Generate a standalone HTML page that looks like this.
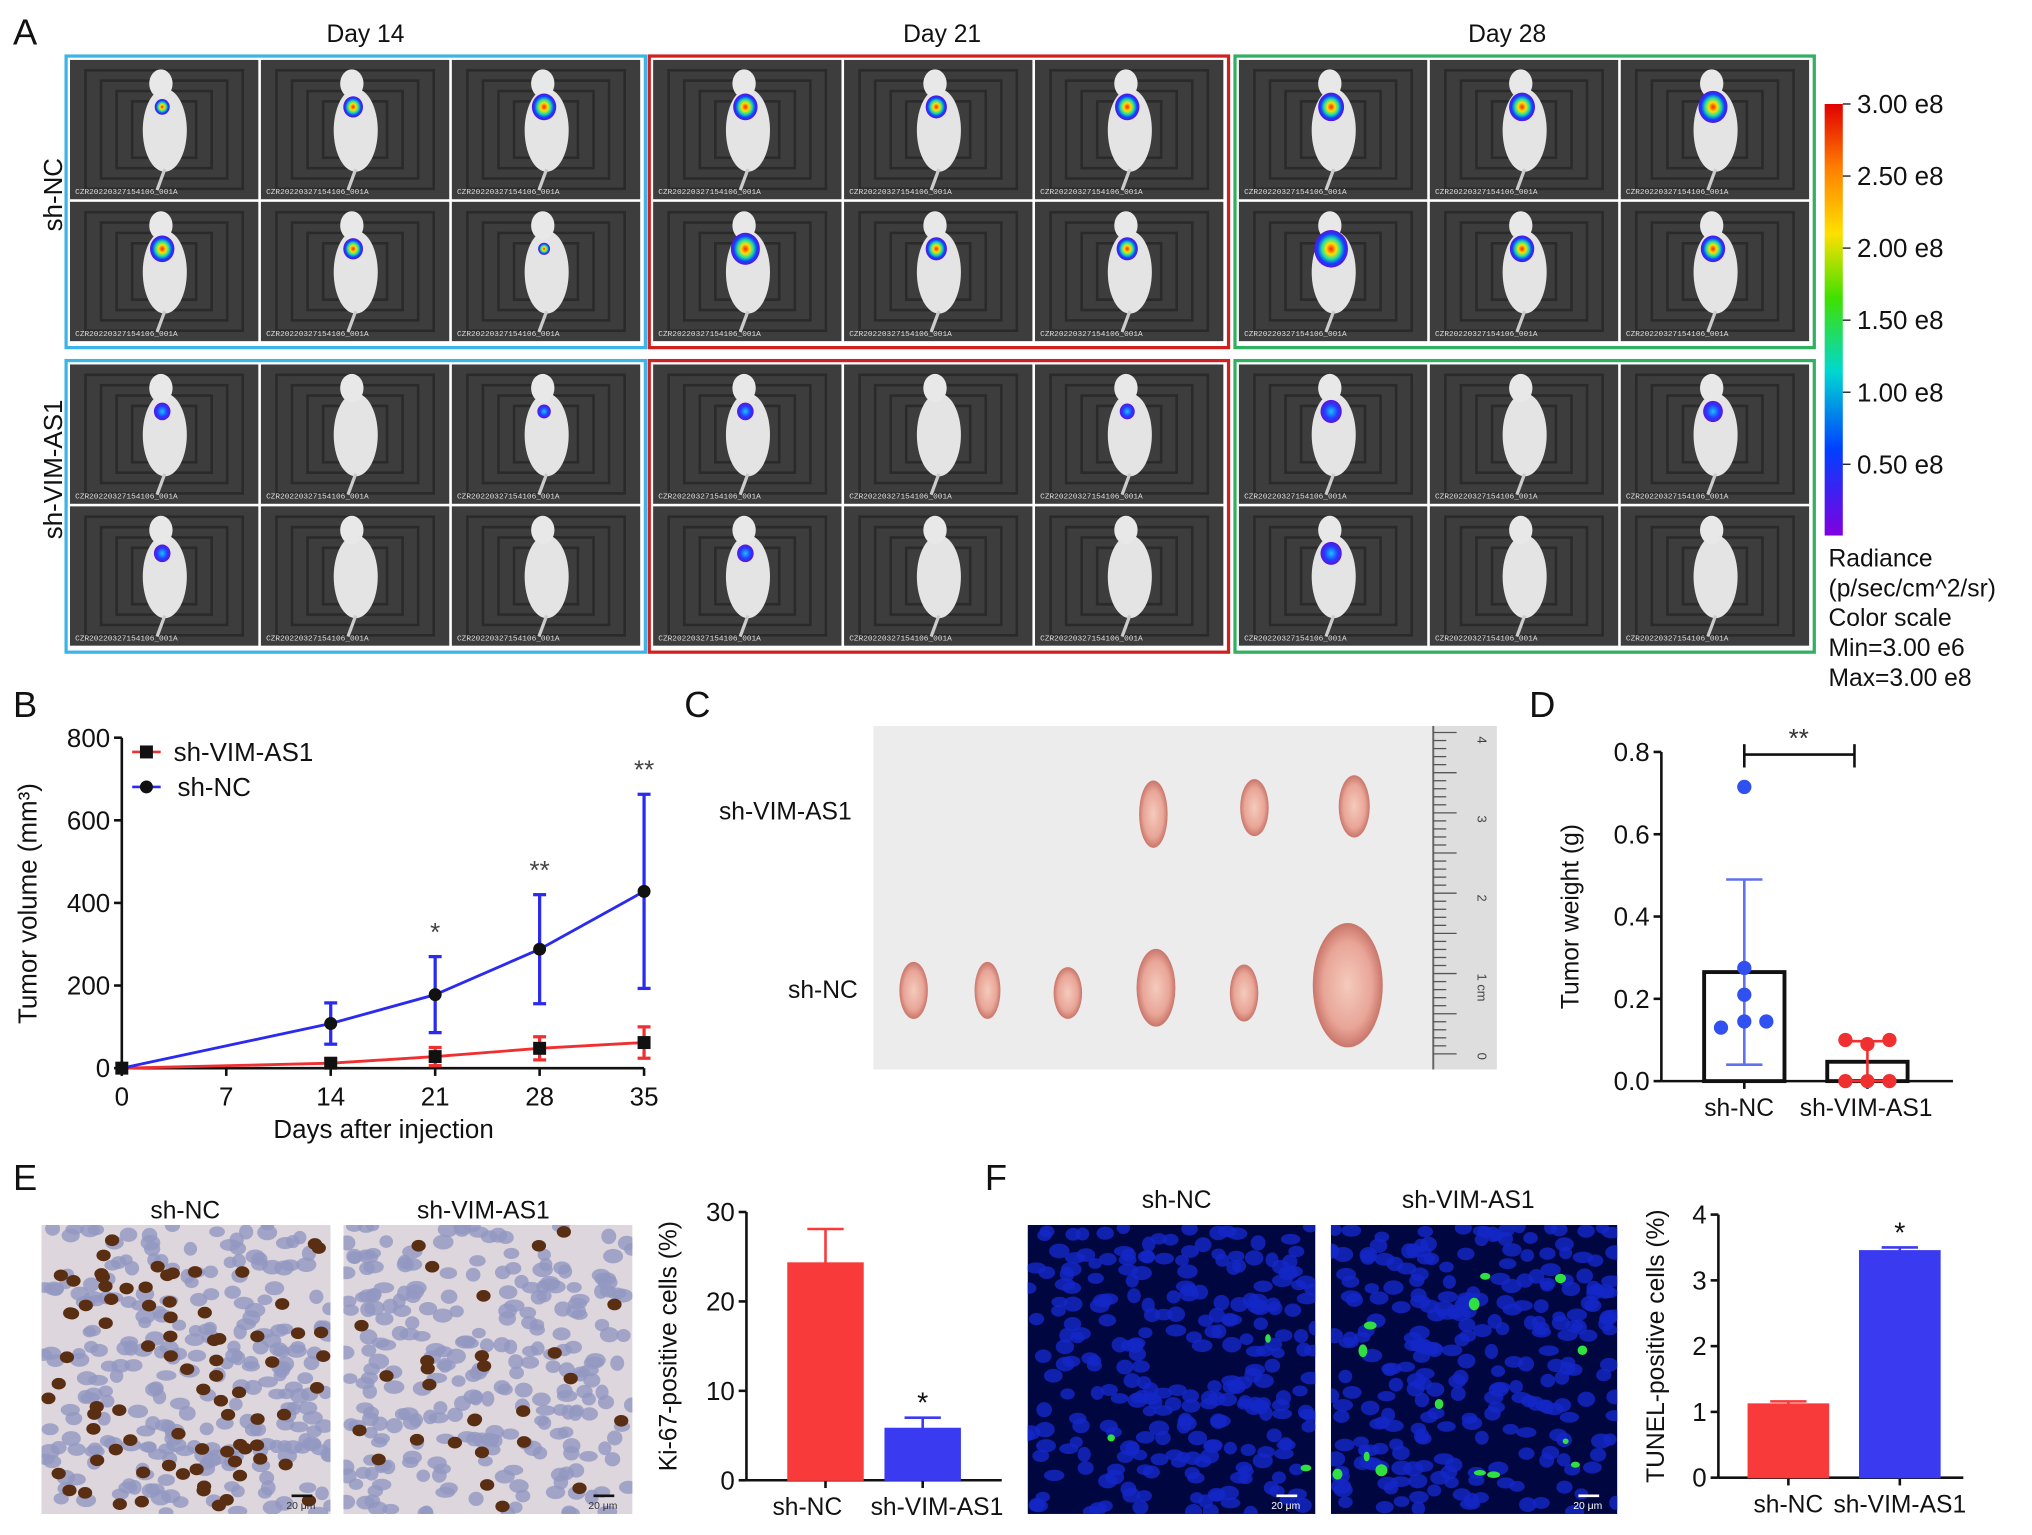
<!DOCTYPE html>
<html><head><meta charset="utf-8"><style>
html,body{margin:0;padding:0;background:#fff;}
svg{display:block;font-family:"Liberation Sans",Arial,sans-serif;}
</style></head><body>
<svg id="fig" width="2032" height="1535" viewBox="0 0 1568 1184" xmlns="http://www.w3.org/2000/svg">
<defs>
<linearGradient id="cbar" x1="0" y1="0" x2="0" y2="1">
<stop offset="0" stop-color="#e00000"/><stop offset="0.15" stop-color="#ff8000"/><stop offset="0.3" stop-color="#ffe000"/><stop offset="0.45" stop-color="#40e000"/><stop offset="0.62" stop-color="#00d8d0"/><stop offset="0.8" stop-color="#0040ff"/><stop offset="1" stop-color="#8000e0"/>
</linearGradient>
<radialGradient id="spot"><stop offset="0" stop-color="#ff2000"/><stop offset="0.3" stop-color="#ffe000"/><stop offset="0.55" stop-color="#20e0a0"/><stop offset="0.8" stop-color="#1040ff"/><stop offset="1" stop-color="#6010e0"/></radialGradient>
<radialGradient id="spotS"><stop offset="0" stop-color="#20c0ff"/><stop offset="0.6" stop-color="#2040ff"/><stop offset="1" stop-color="#6010e0"/></radialGradient>
<radialGradient id="tumor"><stop offset="0" stop-color="#f4cbbd"/><stop offset="0.7" stop-color="#e8a597"/><stop offset="1" stop-color="#c9756a"/></radialGradient>
</defs>
<g id="panelA"></g>
<g id="panelB"></g>
<g id="panelC"></g>
<g id="panelD"></g>
<g id="panelE"></g>
<g id="panelF"></g>
</svg>
<script>
// ---- Chart data ----
const daysB = [0, 14, 21, 28, 35];
const ncVol = [0, 108, 178, 288, 428];
const ncErr = [0, 50, 92, 132, 235];
const vimVol = [0, 12, 28, 48, 62];
const vimErr = [0, 10, 22, 28, 38];
const starsB = ["", "", "*", "**", "**"];
const xTicksB = [0, 7, 14, 21, 28, 35];
const yTicksB = [0, 200, 400, 600, 800];

const groupsD = ["sh-NC", "sh-VIM-AS1"];
const meanD = [0.265, 0.047];
const sdD = [0.225, 0.05];
const ptsNC = [0.715, 0.275, 0.21, 0.145, 0.13, 0.145];
const ptsVIM = [0.1, 0.1, 0.09, 0.0, 0.0, 0.0];
const yTicksD = [0.0, 0.2, 0.4, 0.6, 0.8];

const groupsE = ["sh-NC", "sh-VIM-AS1"];
const meanE = [24.3, 5.8];
const errE = [3.8, 1.2];
const yTicksE = [0, 10, 20, 30];

const groupsF = ["sh-NC", "sh-VIM-AS1"];
const meanF = [1.12, 3.45];
const errF = [0.04, 0.05];
const yTicksF = [0, 1, 2, 3, 4];

const NS = "http://www.w3.org/2000/svg";
function el(parent, tag, attrs, text) {
  const e = document.createElementNS(NS, tag);
  for (const k in attrs) e.setAttribute(k, attrs[k]);
  if (text !== undefined) e.textContent = text;
  parent.appendChild(e);
  return e;
}
function txt(p, x, y, s, size, name, extra) {
  const t = el(p, "text", Object.assign({x: x, y: y, "font-size": size, fill: "#111"}, extra || {}), s);
  
  
  return t;
}

// ---- Panel A ----
const A = document.getElementById("panelA");
txt(A, 10, 34, "A", 28, "panel-label-a");
const days = ["Day 14", "Day 21", "Day 28"];
const dayX = [282, 727, 1163];
const boxX = [51, 501, 953];
const colors = ["#3cb4e6", "#d02020", "#30b060"];
const intensity = [[0.3,0.6,0.9,0.9,0.6,0.1],[0.9,0.7,0.9,1.2,0.7,0.7],[1,1,1.2,1.5,0.9,0.9]];
const intensityS = [[0.4,0,0.2,0.4,0,0],[0.4,0,0.3,0.4,0,0],[0.7,0,0.6,0.7,0,0]];
days.forEach((d, i) => {
  txt(A, dayX[i], 32, d, 19, "day-label", {"text-anchor": "middle"});
  [[43, 268, intensity[i]], [278, 503, intensityS[i]]].forEach((r, ri) => {
    const bx = boxX[i], bw = 447, by = r[0], bh = r[1] - r[0];
    const box = el(A, "g", {});
    
    
    el(box, "rect", {x: bx, y: by, width: bw, height: bh, fill: "#fff", stroke: colors[i], "stroke-width": 2.5});
    const cw = (bw - 8) / 3, ch = (bh - 8) / 2;
    for (let k = 0; k < 6; k++) {
      const cx = bx + 3 + (k % 3) * (cw + 1), cy = by + 3 + Math.floor(k / 3) * (ch + 1);
      el(box, "rect", {x: cx, y: cy, width: cw - 1, height: ch - 1, fill: "#3d3d3d"});
      for (let q = 1; q < 5; q++) el(box, "rect", {x: cx + q * 12, y: cy + q * 8, width: cw - 1 - q * 24, height: ch - 1 - q * 16, fill: "none", stroke: "#2a2a2a", "stroke-width": 2});
      const mx = cx + cw * 0.5, my = cy + ch * 0.5;
      el(box, "ellipse", {cx: mx, cy: my, rx: 17, ry: 32, fill: "#e4e4e4"});
      el(box, "ellipse", {cx: mx - 3, cy: my - 36, rx: 9, ry: 11, fill: "#e8e8e8"});
      el(box, "line", {x1: mx, y1: my + 30, x2: mx - 6, y2: cy + ch - 8, stroke: "#ccc", "stroke-width": 2.5});
      el(box, "text", {x: cx + 4, y: cy + ch - 5, "font-size": 6, fill: "#ddd", "font-family": "Liberation Mono"}, "CZR20220327154106_001A");
      const v = r[2][k];
      if (v > 0) el(box, "ellipse", {cx: mx - 2, cy: my - 18, rx: 4 + 6 * v, ry: 4 + 7 * v, fill: ri === 0 ? "url(#spot)" : "url(#spotS)"});
    }
  });
});
txt(A, 48, 150, "sh-NC", 20, "row-label-sh-nc", {"text-anchor": "middle", transform: "rotate(-90 48 150)"});
txt(A, 48, 362, "sh-VIM-AS1", 20, "row-label-sh-vim-as1", {"text-anchor": "middle", transform: "rotate(-90 48 362)"});
const cb = el(A, "rect", {x: 1408, y: 80, width: 14, height: 333, fill: "url(#cbar)"});


["3.00 e8","2.50 e8","2.00 e8","1.50 e8","1.00 e8","0.50 e8"].forEach((s, i) => {
  const y = 80 + i * 55.6;
  el(A, "line", {x1: 1422, y1: y, x2: 1428, y2: y, stroke: "#111"});
  txt(A, 1433, y + 7, s, 20, "colorbar-tick");
});
["Radiance", "(p/sec/cm^2/sr)", "Color scale", "Min=3.00 e6", "Max=3.00 e8"].forEach((s, i) =>
  txt(A, 1411, 437 + i * 23, s, 19, "colorbar-caption"));

// ---- Panel B ----
const B = document.getElementById("panelB");
txt(B, 10, 553, "B", 28, "panel-label-b");
const bx0 = 94, bx1 = 497, by0 = 824, by1 = 569;
const xB = d => bx0 + (d / 35) * (bx1 - bx0);
const yB = v => by0 - (v / 800) * (by0 - by1);
el(B, "line", {x1: bx0, y1: by1, x2: bx0, y2: by0, stroke: "#111", "stroke-width": 2});
el(B, "line", {x1: bx0, y1: by0, x2: bx1, y2: by0, stroke: "#111", "stroke-width": 2});
yTicksB.forEach(v => { el(B, "line", {x1: bx0 - 6, y1: yB(v), x2: bx0, y2: yB(v), stroke: "#111", "stroke-width": 2}); txt(B, bx0 - 9, yB(v) + 7, String(v), 20, "y-tick-label", {"text-anchor": "end"}); });
xTicksB.forEach(v => { el(B, "line", {x1: xB(v), y1: by0, x2: xB(v), y2: by0 + 6, stroke: "#111", "stroke-width": 2}); txt(B, xB(v), by0 + 29, String(v), 20, "x-tick-label", {"text-anchor": "middle"}); });
txt(B, 296, 878, "Days after injection", 20, "x-axis-title", {"text-anchor": "middle"});
txt(B, 28, 697, "Tumor volume (mm³)", 20, "y-axis-title", {"text-anchor": "middle", transform: "rotate(-90 28 697)"});
function series(vals, errs, color, marker, name) {
  const g = el(B, "g", {});
  
  
  el(g, "polyline", {points: daysB.map((d, i) => xB(d) + "," + yB(vals[i])).join(" "), fill: "none", stroke: color, "stroke-width": 2.2});
  daysB.forEach((d, i) => {
    if (errs[i] > 0) {
      const x = xB(d), t = yB(vals[i] + errs[i]), b = yB(Math.max(0, vals[i] - errs[i]));
      el(g, "line", {x1: x, y1: t, x2: x, y2: b, stroke: color, "stroke-width": 2.5});
      el(g, "line", {x1: x - 5, y1: t, x2: x + 5, y2: t, stroke: color, "stroke-width": 2.5});
      el(g, "line", {x1: x - 5, y1: b, x2: x + 5, y2: b, stroke: color, "stroke-width": 2.5});
    }
    if (marker === "c") el(g, "circle", {cx: xB(d), cy: yB(vals[i]), r: 5, fill: "#111"});
    else el(g, "rect", {x: xB(d) - 5, y: yB(vals[i]) - 5, width: 10, height: 10, fill: "#111"});
  });
}
series(vimVol, vimErr, "#f03030", "s", "series-sh-vim-as1");
series(ncVol, ncErr, "#2a2af0", "c", "series-sh-nc");
daysB.forEach((d, i) => { if (starsB[i]) txt(B, xB(d), yB(ncVol[i] + ncErr[i]) - 12, starsB[i], 20, "significance-star", {"text-anchor": "middle", fill: "#444"}); });
el(B, "line", {x1: 102, y1: 580, x2: 124, y2: 580, stroke: "#f03030", "stroke-width": 2});
el(B, "rect", {x: 108, y: 575, width: 10, height: 10, fill: "#111"});
txt(B, 134, 587, "sh-VIM-AS1", 20, "legend-entry-sh-vim-as1");
el(B, "line", {x1: 102, y1: 607, x2: 124, y2: 607, stroke: "#2a2af0", "stroke-width": 2});
el(B, "circle", {cx: 113, cy: 607, r: 5, fill: "#111"});
txt(B, 137, 614, "sh-NC", 20, "legend-entry-sh-nc");

// ---- Panel C ----
const C = document.getElementById("panelC");
txt(C, 528, 553, "C", 28, "panel-label-c");
el(C, "rect", {x: 674, y: 560, width: 481, height: 265, fill: "#ececec"});
el(C, "rect", {x: 1105, y: 560, width: 50, height: 265, fill: "#dedede"});
el(C, "line", {x1: 1106, y1: 560, x2: 1106, y2: 825, stroke: "#666", "stroke-width": 1.5});
for (let i = 0; i <= 40; i++) { const y = 565 + i * 6.2; el(C, "line", {x1: 1106, y1: y, x2: 1106 + (i % 5 ? 10 : 18), y2: y, stroke: "#555", "stroke-width": 1}); }
["4","3","2","1 cm","0"].forEach((s, i) => txt(C, 1140, 568 + i * 61, s, 10, "ruler-label", {transform: "rotate(90 1140 " + (568 + i * 61) + ")", fill: "#444"}));
txt(C, 606, 632, "sh-VIM-AS1", 19, "label-sh-vim-as1", {"text-anchor": "middle"});
txt(C, 635, 770, "sh-NC", 19, "label-sh-nc", {"text-anchor": "middle"});
[[890,628,11,26],[968,623,11,22],[1045,622,12,24]].forEach(t => { const e = el(C, "ellipse", {cx: t[0], cy: t[1], rx: t[2], ry: t[3], fill: "url(#tumor)"});   });
[[705,764,11,22],[762,764,10,22],[824,766,11,20],[892,762,15,30],[960,766,11,22],[1040,760,27,48]].forEach(t => { const e = el(C, "ellipse", {cx: t[0], cy: t[1], rx: t[2], ry: t[3], fill: "url(#tumor)"});   });

// ---- Bar chart helper ----
function barChart(P, o) {
  const y = v => o.y0 - (v / o.max) * (o.y0 - o.y1);
  el(P, "line", {x1: o.ax, y1: o.y1, x2: o.ax, y2: o.y0, stroke: "#111", "stroke-width": 2});
  el(P, "line", {x1: o.ax, y1: o.y0, x2: o.axEnd, y2: o.y0, stroke: "#111", "stroke-width": 2});
  o.ticks.forEach(v => { el(P, "line", {x1: o.ax - 6, y1: y(v), x2: o.ax, y2: y(v), stroke: "#111", "stroke-width": 2}); txt(P, o.ax - 9, y(v) + 7, o.fmt(v), 20, "y-tick-label", {"text-anchor": "end"}); });
  txt(P, o.ylx, (o.y0 + o.y1) / 2, o.ylabel, 19, "y-axis-title", {"text-anchor": "middle", transform: "rotate(-90 " + o.ylx + " " + (o.y0 + o.y1) / 2 + ")"});
  o.groups.forEach((g, i) => {
    const cx = o.cx[i], w = o.w;
    el(P, "line", {x1: cx, y1: o.y0, x2: cx, y2: o.y0 + 6, stroke: "#111", "stroke-width": 2});
    const r = el(P, "rect", {x: cx - w / 2, y: y(o.mean[i]), width: w, height: o.y0 - y(o.mean[i]), fill: o.fill[i], stroke: o.stroke[i], "stroke-width": o.sw});
    
    
    const t = y(o.mean[i] + o.err[i]);
    el(P, "line", {x1: cx, y1: t, x2: cx, y2: y(o.mean[i] - (o.lowErr ? o.err[i] : 0)), stroke: o.errc[i], "stroke-width": 2});
    el(P, "line", {x1: cx - 14, y1: t, x2: cx + 14, y2: t, stroke: o.errc[i], "stroke-width": 2});
    if (o.lowErr) { const b = y(Math.max(0, o.mean[i] - o.err[i])); el(P, "line", {x1: cx - 14, y1: b, x2: cx + 14, y2: b, stroke: o.errc[i], "stroke-width": 2}); }
    txt(P, o.lx ? o.lx[i] : cx, o.y0 + 27, g, 19, "x-tick-label", {"text-anchor": "middle"});
    if (o.star && o.star[i]) txt(P, cx, t - 4, o.star[i], 22, "significance-star", {"text-anchor": "middle"});
  });
  return y;
}

// ---- Panel D ----
const D = document.getElementById("panelD");
txt(D, 1180, 553, "D", 28, "panel-label-d");
const yD = barChart(D, {ax: 1282, axEnd: 1507, y0: 834, y1: 580, max: 0.8, ticks: yTicksD, fmt: v => v.toFixed(1), ylx: 1218, ylabel: "Tumor weight (g)",
  groups: groupsD, cx: [1346, 1441], w: 62, mean: meanD, err: sdD, fill: ["none","none"], stroke: ["#111","#111"], sw: 3, errc: ["#6070f0","#f03030"], lowErr: true, lx: [1342, 1440]});
ptsNC.forEach((v, i) => { const c = el(D, "circle", {cx: 1346 + [0,0,0,0,-18,17][i], cy: yD(v), r: 5.5, fill: "#3050f0"});   });
ptsVIM.forEach((v, i) => { const c = el(D, "circle", {cx: 1441 + [-17,17,0,-17,17,0][i], cy: yD(v), r: 5.5, fill: "#f03030"});   });
el(D, "line", {x1: 1346, y1: 582, x2: 1431, y2: 582, stroke: "#111", "stroke-width": 2});
el(D, "line", {x1: 1346, y1: 574, x2: 1346, y2: 592, stroke: "#111", "stroke-width": 2});
el(D, "line", {x1: 1431, y1: 574, x2: 1431, y2: 592, stroke: "#111", "stroke-width": 2});
txt(D, 1388, 576, "**", 20, "significance-star", {"text-anchor": "middle", fill: "#333"});

// ---- Micrograph helpers ----
let clipId = 0;
function micro(P, x, y, w, h, kind, dots, name) {
  const cp = el(document.querySelector("defs"), "clipPath", {id: "mc" + (++clipId)});
  el(cp, "rect", {x: x, y: y, width: w, height: h});
  const g = el(P, "g", {"clip-path": "url(#mc" + clipId + ")"});
  
  
  el(g, "rect", {x: x, y: y, width: w, height: h, fill: kind === "ihc" ? "#ddd6dc" : "#000640"});
  let s = 7 + clipId;
  const rnd = () => { s = (s * 9301 + 49297) % 233280; return s / 233280; };
  for (let i = 0; i < 260; i++) {
    const cx = x + rnd() * w, cy = y + rnd() * h;
    el(g, "ellipse", {cx: cx, cy: cy, rx: 5 + rnd() * 3, ry: 4 + rnd() * 2, fill: kind === "ihc" ? "#9297c2" : "#1428c8", opacity: 0.8});
  }
  for (let i = 0; i < dots; i++) {
    const cx = x + 5 + rnd() * (w - 10), cy = y + 5 + rnd() * (h - 10);
    el(g, "ellipse", {cx: cx, cy: cy, rx: kind === "ihc" ? 5.5 : 2 + rnd() * 3, ry: kind === "ihc" ? 4.5 : 2 + rnd() * 3, fill: kind === "ihc" ? "#5a2e12" : "#30e040"});
  }
  el(g, "line", {x1: x + w - 30, y1: y + h - 14, x2: x + w - 14, y2: y + h - 14, stroke: kind === "ihc" ? "#111" : "#fff", "stroke-width": 2});
  el(g, "text", {x: x + w - 34, y: y + h - 4, "font-size": 8, fill: kind === "ihc" ? "#333" : "#fff"}, "20 μm");
}

// ---- Panel E ----
const E = document.getElementById("panelE");
txt(E, 10, 918, "E", 28, "panel-label-e");
txt(E, 143, 940, "sh-NC", 19, "image-label-sh-nc", {"text-anchor": "middle"});
txt(E, 373, 940, "sh-VIM-AS1", 19, "image-label-sh-vim-as1", {"text-anchor": "middle"});
micro(E, 32, 945, 223, 223, "ihc", 80, "ki67-image-sh-nc");
micro(E, 265, 945, 223, 223, "ihc", 28, "ki67-image-sh-vim-as1");
barChart(E, {ax: 576, axEnd: 773, y0: 1142, y1: 935, max: 30, ticks: yTicksE, fmt: v => String(v), ylx: 522, ylabel: "Ki-67-positive cells (%)",
  groups: groupsE, cx: [637, 712], w: 58, mean: meanE, err: errE, fill: ["#f83a3a","#3a3af0"], stroke: ["#f83a3a","#3a3af0"], sw: 1, errc: ["#f83a3a","#3a3af0"], star: ["", "*"], lx: [623, 723]});

// ---- Panel F ----
const F = document.getElementById("panelF");
txt(F, 760, 918, "F", 28, "panel-label-f");
txt(F, 908, 932, "sh-NC", 19, "image-label-sh-nc", {"text-anchor": "middle"});
txt(F, 1133, 932, "sh-VIM-AS1", 19, "image-label-sh-vim-as1", {"text-anchor": "middle"});
micro(F, 793, 945, 222, 223, "tunel", 3, "tunel-image-sh-nc");
micro(F, 1027, 945, 221, 223, "tunel", 14, "tunel-image-sh-vim-as1");
barChart(F, {ax: 1326, axEnd: 1515, y0: 1140, y1: 937, max: 4, ticks: yTicksF, fmt: v => String(v), ylx: 1284, ylabel: "TUNEL-positive cells (%)",
  groups: groupsF, cx: [1380, 1466], w: 62, mean: meanF, err: errF, fill: ["#f83a3a","#3a3af0"], stroke: ["#f83a3a","#3a3af0"], sw: 1, errc: ["#f83a3a","#3a3af0"], star: ["", "*"]});
</script>
</body></html>
